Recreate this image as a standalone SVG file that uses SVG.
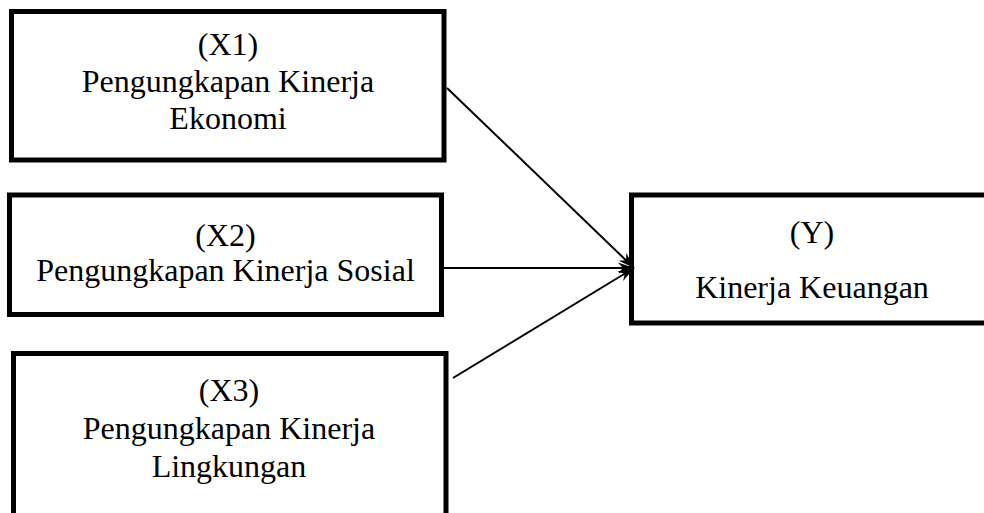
<svg xmlns="http://www.w3.org/2000/svg" width="984" height="513" viewBox="0 0 984 513">
<style>
.box{fill:#fff;stroke:#000;stroke-width:5}
.t{font-family:"Liberation Serif","Times New Roman",serif;font-size:32px;fill:#000;text-anchor:middle}
.c{stroke:#000;stroke-width:2;fill:none;marker-end:url(#ah)}
</style>
<defs>
<marker id="ah" markerUnits="userSpaceOnUse" markerWidth="18" markerHeight="14" refX="16" refY="7" orient="auto">
<path d="M0,1.5 L16,7 L0,12.5 L5,7 z" fill="#000"/>
</marker>
</defs>
<rect width="984" height="513" fill="#fff"/>
<g id="x1">
<rect class="box" x="11.5" y="11.5" width="432.5" height="148.5"/>
<text class="t" x="228" y="55">(X1)</text>
<text class="t" x="228" y="92">Pengungkapan Kinerja</text>
<text class="t" x="228" y="129">Ekonomi</text>
</g>
<g id="x2">
<rect class="box" x="9.5" y="195" width="432" height="119.5"/>
<text class="t" x="225.5" y="246">(X2)</text>
<text class="t" x="225.5" y="281">Pengungkapan Kinerja Sosial</text>
</g>
<g id="x3">
<rect class="box" x="13.5" y="353.5" width="432.5" height="180"/>
<text class="t" x="229" y="401">(X3)</text>
<text class="t" x="229" y="439">Pengungkapan Kinerja</text>
<text class="t" x="229" y="477">Lingkungan</text>
</g>
<g id="y">
<rect class="box" x="631.5" y="195" width="370" height="128"/>
<text class="t" x="812" y="243">(Y)</text>
<text class="t" x="812" y="298">Kinerja Keuangan</text>
</g>
<g id="connectors">
<line class="c" x1="447" y1="88" x2="634" y2="268"/>
<line class="c" x1="443" y1="268" x2="634" y2="268"/>
<line class="c" x1="453" y1="378" x2="634" y2="268"/>
</g>
</svg>
